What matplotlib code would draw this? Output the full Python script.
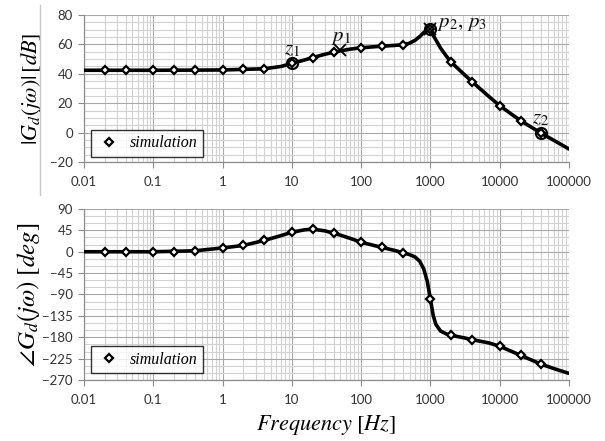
import matplotlib
matplotlib.use("Agg")
import matplotlib.pyplot as plt
from matplotlib.ticker import FixedLocator, LogLocator, NullFormatter
from matplotlib.lines import Line2D

plt.rcParams['mathtext.fontset'] = 'stix'
plt.rcParams['font.family'] = ['Lato', 'DejaVu Sans']

# ---- data ----
f_sim = [0.02, 0.04, 0.1, 0.2, 0.4, 1, 2, 4, 10, 20, 40, 100, 200, 400,
         1000, 2000, 4000, 10000, 20000, 40000]
mag_sim = [42.4, 42.4, 42.4, 42.4, 42.5, 42.6, 43.0, 43.4, 47.1, 51.0, 54.6,
           57.7, 58.8, 59.8, 70.5, 47.8, 34.6, 18.3, 8.1, -0.5]
phase_sim = [0, 0, 0, 0.3, 2, 8, 13.3, 23.8, 41, 47.5, 39, 20, 9, -2,
             -100, -176, -186, -199, -218, -237]

f_curve = [0.01, 0.1, 0.4, 1, 2, 4, 7, 10, 15, 20, 30, 40, 50, 70, 100, 200,
           300, 400, 500, 600, 700, 800, 900, 1000, 1100, 1200, 1400, 1700,
           2000, 3000, 4000, 7000, 10000, 20000, 40000, 70000, 100000]
mag_curve = [42.4, 42.4, 42.5, 42.6, 43.0, 43.4, 45.0, 47.1, 49.3, 51.0, 53.3,
             54.6, 55.6, 56.8, 57.7, 58.8, 59.3, 59.8, 60.8, 62.8, 65.3, 68.0,
             70.0, 70.5, 66.0, 63.0, 57.5, 52.0, 47.8, 40.0, 34.6, 24.5, 18.3,
             8.1, -0.5, -7.0, -11.2]
phase_curve = [0, 0, 2, 8, 13.3, 23.8, 34, 41, 46, 47.5, 44, 39, 35, 28, 20, 9,
               3, -2, -6, -11, -20, -36, -62, -100, -135, -153, -167, -173,
               -176, -181, -185, -192, -199, -218, -237, -249, -256]

zeros_f = [10, 40000]
zeros_mag = [47.1, -0.5]
p1_f = [50]
p1_mag = [56.2]
p23_f = [1000]
p23_mag = [70.5]

xticks = [0.01, 0.1, 1, 10, 100, 1000, 10000, 100000]
xticklabels = ['0.01', '0.1', '1', '10', '100', '1000', '10000', '100000']
mag_ticks = [-20, 0, 20, 40, 60, 80]
phase_ticks = [-270, -225, -180, -135, -90, -45, 0, 45, 90]

fig = plt.figure(figsize=(6.05, 4.41), dpi=100)
ax1 = fig.add_axes([0.1388, 0.6327, 0.8017, 0.3333])
ax2 = fig.add_axes([0.1388, 0.1383, 0.8017, 0.3878])

tick_col = '#333333'
for ax in (ax1, ax2):
    ax.set_xscale('log')
    ax.set_xlim(0.01, 100000)
    ax.xaxis.set_major_locator(FixedLocator(xticks))
    ax.set_xticklabels(xticklabels)
    ax.xaxis.set_minor_locator(LogLocator(base=10, subs=range(2, 10), numticks=20))
    ax.xaxis.set_minor_formatter(NullFormatter())
    ax.grid(True, which='major', color='#a8a8a8', lw=0.8)
    ax.grid(True, which='minor', color='#d2d2d2', lw=0.8)
    ax.set_axisbelow(True)
    for s in ('top', 'right'):
        ax.spines[s].set_visible(False)
    for s in ('left', 'bottom'):
        ax.spines[s].set_color('#8c8c8c')
        ax.spines[s].set_linewidth(0.9)
    ax.tick_params(axis='both', which='major', labelsize=9.5, colors='#8c8c8c',
                   labelcolor=tick_col, length=4, width=0.8, pad=4)
    ax.tick_params(axis='x', which='major', pad=6)
    ax.tick_params(axis='both', which='minor', length=0)

# magnitude
ax1.set_ylim(-20, 80)
ax1.yaxis.set_major_locator(FixedLocator(mag_ticks))
ax1.yaxis.set_minor_locator(FixedLocator(list(range(-20, 81, 5))))
ax1.plot(f_curve, mag_curve, color='black', lw=2.6, solid_capstyle='round', zorder=3)
ax1.plot(f_sim, mag_sim, ls='none', marker='D', ms=4.5, mfc='white', mec='black',
         mew=1.6, zorder=4)
ax1.plot(zeros_f, zeros_mag, ls='none', marker='o', ms=8, mfc='none', mec='black',
         mew=1.5, zorder=5)
ax1.plot(p23_f, p23_mag, ls='none', marker='o', ms=8, mfc='none', mec='black',
         mew=1.5, zorder=5)
ax1.plot(p1_f + p23_f, p1_mag + p23_mag, ls='none', marker='x', ms=8, mec='black',
         mew=1.3, zorder=5)
ax1.set_ylabel(r'$|G_d(j\omega)|\,[dB]$', fontsize=16, labelpad=4)

txt_kw = dict(fontsize=15, color='#111111')
ax1.text(7.8, 53.0, r'$z_1$', **txt_kw)
ax1.text(37, 62.0, r'$p_1$', **txt_kw)
ax1.text(1250, 72.0, r'$p_2,\, p_3$', **txt_kw)
ax1.text(29000, 6.0, r'$z_2$', **txt_kw)

# phase
ax2.set_ylim(-270, 90)
ax2.yaxis.set_major_locator(FixedLocator(phase_ticks))
ax2.yaxis.set_minor_locator(FixedLocator(list(range(-270, 91, 15))))
ax2.plot(f_curve, phase_curve, color='black', lw=2.6, solid_capstyle='round', zorder=3)
ax2.plot(f_sim, phase_sim, ls='none', marker='D', ms=4.5, mfc='white', mec='black',
         mew=1.6, zorder=4)
ax2.set_ylabel(r'$\angle G_d(j\omega)\ [deg]$', fontsize=18, labelpad=0)
ax2.set_xlabel(r'$Frequency\ [Hz]$', fontsize=16, labelpad=5)

handle = Line2D([], [], ls='none', marker='D', ms=4.5, mfc='white', mec='black', mew=1.6)
for ax, anchor in ((ax1, (0.014, 0.034)), (ax2, (0.014, 0.04))):
    leg = ax.legend([handle], ['simulation'], loc='lower left', bbox_to_anchor=anchor,
                    borderaxespad=0, frameon=True, fancybox=False, borderpad=0.35,
                    handletextpad=0.5, handlelength=1.6,
                    prop=dict(family='Liberation Serif', style='italic', size=11.5))
    leg.get_frame().set_edgecolor('black')
    leg.get_frame().set_linewidth(1.0)
    leg.set_zorder(10)

# light border line at left of top chart
fig.add_artist(Line2D([40 / 605, 40 / 605], [1 - 5 / 441, 1 - 195 / 441],
                      color='#c8c8c8', lw=1.0, transform=fig.transFigure))

fig.savefig('out.png', dpi=100)
